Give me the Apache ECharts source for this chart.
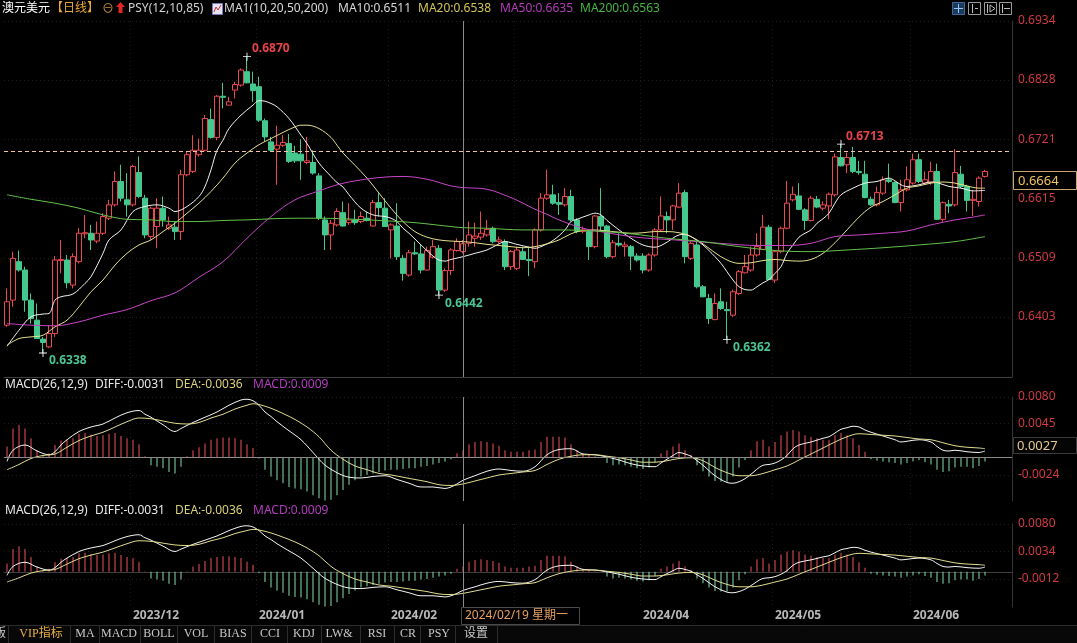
<!DOCTYPE html>
<html>
<head>
<meta charset="utf-8">
<title>澳元美元 日线</title>
<script src="https://cdn.jsdelivr.net/npm/echarts@6.0.0/dist/echarts.min.js"></script>
<style>
html,body{margin:0;padding:0;background:#000;}
#main{width:1077px;height:643px;}
</style>
</head>
<body>
<div id="main"></div>
<script>
// 交易日
var dates = [
'2023/11/02','2023/11/03','2023/11/06','2023/11/07','2023/11/08','2023/11/09','2023/11/10','2023/11/13','2023/11/14','2023/11/15','2023/11/16','2023/11/17','2023/11/20','2023/11/21','2023/11/22','2023/11/23','2023/11/24','2023/11/27','2023/11/28','2023/11/29','2023/11/30',
'2023/12/01','2023/12/04','2023/12/05','2023/12/06','2023/12/07','2023/12/08','2023/12/11','2023/12/12','2023/12/13','2023/12/14','2023/12/15','2023/12/18','2023/12/19','2023/12/20','2023/12/21','2023/12/22','2023/12/25','2023/12/26','2023/12/27','2023/12/28','2023/12/29',
'2024/01/02','2024/01/03','2024/01/04','2024/01/05','2024/01/08','2024/01/09','2024/01/10','2024/01/11','2024/01/12','2024/01/15','2024/01/16','2024/01/17','2024/01/18','2024/01/19','2024/01/22','2024/01/23','2024/01/24','2024/01/25','2024/01/26','2024/01/29','2024/01/30','2024/01/31',
'2024/02/01','2024/02/02','2024/02/05','2024/02/06','2024/02/07','2024/02/08','2024/02/09','2024/02/12','2024/02/13','2024/02/14','2024/02/15','2024/02/16','2024/02/19','2024/02/20','2024/02/21','2024/02/22','2024/02/23','2024/02/26','2024/02/27','2024/02/28','2024/02/29',
'2024/03/01','2024/03/04','2024/03/05','2024/03/06','2024/03/07','2024/03/08','2024/03/11','2024/03/12','2024/03/13','2024/03/14','2024/03/15','2024/03/18','2024/03/19','2024/03/20','2024/03/21','2024/03/22','2024/03/25','2024/03/26','2024/03/27','2024/03/28','2024/03/29',
'2024/04/01','2024/04/02','2024/04/03','2024/04/04','2024/04/05','2024/04/08','2024/04/09','2024/04/10','2024/04/11','2024/04/12','2024/04/15','2024/04/16','2024/04/17','2024/04/18','2024/04/19','2024/04/22','2024/04/23','2024/04/24','2024/04/25','2024/04/26','2024/04/29','2024/04/30',
'2024/05/01','2024/05/02','2024/05/03','2024/05/06','2024/05/07','2024/05/08','2024/05/09','2024/05/10','2024/05/13','2024/05/14','2024/05/15','2024/05/16','2024/05/17','2024/05/20','2024/05/21','2024/05/22','2024/05/23','2024/05/24','2024/05/27','2024/05/28','2024/05/29','2024/05/30','2024/05/31',
'2024/06/03','2024/06/04','2024/06/05','2024/06/06','2024/06/07','2024/06/10','2024/06/11','2024/06/12','2024/06/13','2024/06/14','2024/06/17','2024/06/18','2024/06/19'
];
// 右侧空白位置
var blankSlots = ['', ' ', '  ', '   '];

var opens = [
0.6388,0.6433,0.6502,0.6487,0.6433,0.6397,0.6363,0.6349,0.6373,0.6504,
0.6505,0.6460,0.6502,0.6552,0.6553,0.6539,0.6553,0.6580,0.6604,0.6646,
0.6613,0.6604,0.6662,0.6616,0.6547,0.6565,0.6598,0.6562,0.6564,0.6556,
0.6658,0.6664,0.6694,0.6702,0.6757,0.6725,0.6799,0.6783,0.6810,0.6819,
0.6843,0.6821,0.6816,0.6755,0.6717,0.6704,0.6711,0.6714,0.6697,0.6695,
0.6680,0.6680,0.6656,0.6577,0.6550,0.6568,0.6590,0.6572,0.6577,0.6574,
0.6580,0.6566,0.6608,0.6598,0.6559,0.6566,0.6508,0.6478,0.6518,0.6516,
0.6487,0.6510,0.6526,0.6451,0.6486,0.6522,0.6520,0.6535,0.6544,0.6546,
0.6550,0.6562,0.6538,0.6538,0.6493,0.6490,0.6520,0.6506,0.6502,0.6559,
0.6616,0.6622,0.6608,0.6604,0.6619,0.6577,0.6556,0.6556,0.6529,0.6583,
0.6566,0.6511,0.6535,0.6529,0.6529,0.6512,0.6512,0.6487,0.6514,0.6559,
0.6583,0.6577,0.6600,0.6626,0.6508,0.6532,0.6457,0.6436,0.6398,0.6430,
0.6416,0.6406,0.6445,0.6482,0.6487,0.6514,0.6524,0.6564,0.6469,0.6520,
0.6562,0.6613,0.6620,0.6595,0.6576,0.6614,0.6598,0.6602,0.6622,0.6689,
0.6676,0.6689,0.6664,0.6659,0.6614,0.6604,0.6625,0.6649,0.6644,0.6608,
0.6631,0.6643,0.6685,0.6643,0.6644,0.6664,0.6578,0.6605,0.6604,0.6659,
0.6637,0.6612,0.6610,0.6655
];
var closes = [
0.6430,0.6508,0.6487,0.6433,0.6400,0.6364,0.6357,0.6373,0.6505,0.6506,
0.6464,0.6511,0.6553,0.6554,0.6541,0.6553,0.6583,0.6604,0.6646,0.6616,
0.6604,0.6673,0.6619,0.6550,0.6598,0.6598,0.6577,0.6568,0.6556,0.6658,
0.6694,0.6702,0.6702,0.6759,0.6725,0.6799,0.6797,0.6789,0.6820,0.6846,
0.6823,0.6809,0.6756,0.6726,0.6702,0.6711,0.6716,0.6682,0.6683,0.6683,
0.6683,0.6661,0.6580,0.6550,0.6571,0.6592,0.6566,0.6577,0.6572,0.6583,
0.6576,0.6608,0.6599,0.6565,0.6568,0.6511,0.6481,0.6518,0.6516,0.6487,
0.6522,0.6529,0.6451,0.6486,0.6523,0.6538,0.6534,0.6550,0.6548,0.6553,
0.6560,0.6538,0.6541,0.6493,0.6520,0.6523,0.6506,0.6504,0.6559,0.6616,
0.6622,0.6607,0.6605,0.6619,0.6577,0.6556,0.6559,0.6529,0.6584,0.6566,
0.6511,0.6536,0.6532,0.6532,0.6512,0.6505,0.6487,0.6514,0.6559,0.6584,
0.6577,0.6602,0.6625,0.6511,0.6535,0.6457,0.6439,0.6400,0.6427,0.6418,
0.6414,0.6448,0.6484,0.6493,0.6514,0.6529,0.6564,0.6470,0.6520,0.6562,
0.6607,0.6623,0.6596,0.6576,0.6616,0.6600,0.6604,0.6623,0.6690,0.6674,
0.6689,0.6664,0.6662,0.6617,0.6604,0.6626,0.6649,0.6646,0.6608,0.6631,
0.6649,0.6685,0.6646,0.6649,0.6664,0.6578,0.6608,0.6602,0.6662,0.6637,
0.6612,0.6614,0.6652,0.6664
];
var lows = [
0.6385,0.6421,0.6484,0.6412,0.6391,0.6364,0.6338,0.6347,0.6367,0.6481,
0.6454,0.6454,0.6499,0.6544,0.6523,0.6535,0.6550,0.6577,0.6601,0.6610,
0.6583,0.6601,0.6616,0.6544,0.6541,0.6526,0.6565,0.6559,0.6541,0.6541,
0.6655,0.6661,0.6691,0.6700,0.6723,0.6720,0.6777,0.6783,0.6795,0.6816,
0.6822,0.6789,0.6753,0.6717,0.6700,0.6640,0.6708,0.6679,0.6679,0.6649,
0.6677,0.6658,0.6577,0.6523,0.6523,0.6565,0.6565,0.6568,0.6568,0.6571,
0.6574,0.6565,0.6583,0.6565,0.6508,0.6505,0.6468,0.6475,0.6514,0.6481,
0.6486,0.6508,0.6442,0.6448,0.6478,0.6520,0.6517,0.6529,0.6529,0.6541,
0.6547,0.6535,0.6535,0.6487,0.6487,0.6487,0.6505,0.6476,0.6490,0.6556,
0.6613,0.6604,0.6586,0.6601,0.6574,0.6553,0.6553,0.6505,0.6526,0.6556,
0.6508,0.6508,0.6529,0.6511,0.6487,0.6502,0.6481,0.6484,0.6511,0.6556,
0.6553,0.6559,0.6598,0.6499,0.6505,0.6454,0.6438,0.6390,0.6397,0.6415,
0.6362,0.6403,0.6442,0.6481,0.6484,0.6511,0.6523,0.6469,0.6464,0.6517,
0.6560,0.6610,0.6595,0.6559,0.6574,0.6598,0.6594,0.6578,0.6619,0.6673,
0.6661,0.6661,0.6658,0.6616,0.6602,0.6601,0.6622,0.6643,0.6607,0.6592,
0.6628,0.6640,0.6643,0.6640,0.6640,0.6577,0.6574,0.6589,0.6601,0.6634,
0.6592,0.6584,0.6601,0.6653
];
var highs = [
0.6454,0.6520,0.6522,0.6493,0.6445,0.6427,0.6367,0.6388,0.6512,0.6541,
0.6514,0.6517,0.6562,0.6586,0.6568,0.6574,0.6589,0.6613,0.6664,0.6676,
0.6661,0.6676,0.6691,0.6622,0.6601,0.6616,0.6619,0.6583,0.6574,0.6667,
0.6700,0.6729,0.6723,0.6765,0.6777,0.6801,0.6823,0.6798,0.6825,0.6849,
0.6870,0.6843,0.6834,0.6759,0.6726,0.6746,0.6729,0.6731,0.6710,0.6722,
0.6726,0.6702,0.6661,0.6583,0.6577,0.6598,0.6610,0.6607,0.6595,0.6592,
0.6592,0.6613,0.6625,0.6616,0.6571,0.6607,0.6514,0.6523,0.6538,0.6532,
0.6529,0.6541,0.6532,0.6490,0.6526,0.6544,0.6541,0.6574,0.6572,0.6592,
0.6577,0.6565,0.6547,0.6542,0.6523,0.6529,0.6529,0.6529,0.6562,0.6625,
0.6667,0.6640,0.6625,0.6634,0.6631,0.6580,0.6565,0.6559,0.6586,0.6634,
0.6568,0.6541,0.6553,0.6538,0.6532,0.6517,0.6517,0.6517,0.6562,0.6619,
0.6592,0.6604,0.6643,0.6631,0.6538,0.6538,0.6460,0.6444,0.6445,0.6454,
0.6430,0.6452,0.6487,0.6514,0.6529,0.6553,0.6586,0.6568,0.6523,0.6565,
0.6647,0.6637,0.6643,0.6598,0.6620,0.6620,0.6610,0.6626,0.6696,0.6713,
0.6698,0.6708,0.6683,0.6683,0.6619,0.6637,0.6655,0.6678,0.6646,0.6649,
0.6673,0.6696,0.6696,0.6664,0.6681,0.6678,0.6610,0.6613,0.6704,0.6674,
0.6640,0.6631,0.6655,0.6667
];

// 均线读数 [序号, 值]
var ma10Pts = [[0,0.6350],[2,0.6379],[4,0.6403],[6,0.6408],[7,0.6409],[8,0.6433],[9,0.6439],[11,0.6444],[13,0.6463],[14,0.6475],[16,0.6517],[17,0.6541],[19,0.6559],[21,0.6592],[23,0.6601],[25,0.6604],[27,0.6598],[28,0.6592],[30,0.6601],[32,0.6619],[33,0.6637],[34,0.6667],[35,0.6702],[36,0.6720],[37,0.6741],[39,0.6765],[41,0.6783],[42,0.6791],[43,0.6790],[44,0.6786],[45,0.6780],[47,0.6759],[49,0.6729],[50,0.6714],[52,0.6679],[54,0.6655],[55,0.6644],[56,0.6636],[57,0.6622],[59,0.6598],[61,0.6586],[63,0.6583],[64,0.6580],[65,0.6574],[66,0.6562],[67,0.6553],[69,0.6532],[71,0.6512],[72,0.6505],[73,0.6503],[74,0.6506],[76,0.6511],[78,0.6517],[80,0.6523],[82,0.6534],[83,0.6538],[85,0.6533],[87,0.6528],[88,0.6526],[89,0.6529],[91,0.6540],[93,0.6559],[94,0.6574],[95,0.6578],[97,0.6586],[98,0.6589],[99,0.6586],[100,0.6576],[102,0.6559],[104,0.6544],[106,0.6532],[108,0.6528],[109,0.6531],[110,0.6537],[112,0.6550],[113,0.6551],[114,0.6547],[115,0.6540],[116,0.6532],[117,0.6522],[118,0.6511],[119,0.6499],[120,0.6484],[121,0.6469],[122,0.6457],[123,0.6452],[124,0.6451],[125,0.6457],[126,0.6464],[127,0.6470],[128,0.6481],[129,0.6493],[130,0.6517],[131,0.6532],[132,0.6546],[133,0.6553],[134,0.6559],[135,0.6571],[136,0.6579],[137,0.6589],[138,0.6607],[139,0.6622],[141,0.6634],[143,0.6643],[145,0.6646],[147,0.6652],[148,0.6647],[149,0.6640],[150,0.6637],[152,0.6640],[154,0.6645],[155,0.6644],[157,0.6637],[159,0.6634],[161,0.6629],[163,0.6630]];
var ma20Pts = [[0,0.6352],[2,0.6364],[4,0.6367],[6,0.6370],[8,0.6385],[10,0.6397],[12,0.6421],[14,0.6448],[16,0.6469],[18,0.6496],[20,0.6517],[22,0.6532],[24,0.6541],[26,0.6556],[28,0.6571],[30,0.6589],[32,0.6607],[34,0.6628],[36,0.6652],[38,0.6679],[40,0.6697],[42,0.6712],[44,0.6723],[46,0.6734],[48,0.6744],[49,0.6747],[50,0.6747],[52,0.6741],[54,0.6725],[55,0.6711],[56,0.6697],[58,0.6675],[60,0.6652],[62,0.6625],[64,0.6598],[66,0.6574],[68,0.6556],[70,0.6546],[72,0.6541],[74,0.6539],[76,0.6538],[78,0.6536],[80,0.6533],[82,0.6531],[84,0.6529],[86,0.6527],[88,0.6529],[90,0.6534],[92,0.6541],[94,0.6552],[96,0.6558],[98,0.6559],[100,0.6557],[102,0.6555],[104,0.6553],[106,0.6554],[108,0.6556],[110,0.6556],[112,0.6554],[114,0.6547],[116,0.6534],[118,0.6518],[120,0.6505],[122,0.6499],[124,0.6500],[126,0.6504],[128,0.6506],[130,0.6504],[132,0.6503],[134,0.6506],[136,0.6517],[138,0.6536],[140,0.6559],[142,0.6582],[144,0.6600],[146,0.6610],[148,0.6622],[150,0.6634],[152,0.6638],[154,0.6643],[156,0.6645],[158,0.6643],[160,0.6638],[162,0.6634],[163,0.6634]];
var ma50Pts = [[0,0.6391],[4,0.6388],[8,0.6387],[12,0.6394],[16,0.6406],[20,0.6416],[24,0.6432],[28,0.6446],[32,0.6474],[36,0.6502],[40,0.6544],[44,0.6583],[48,0.6613],[52,0.6629],[55,0.6640],[58,0.6647],[62,0.6653],[66,0.6655],[70,0.6650],[74,0.6638],[76,0.6635],[80,0.6632],[84,0.6617],[86,0.6607],[88,0.6596],[90,0.6587],[92,0.6577],[96,0.6562],[100,0.6554],[104,0.6547],[108,0.6543],[110,0.6542],[115,0.6538],[120,0.6534],[125,0.6531],[130,0.6531],[134,0.6535],[138,0.6547],[142,0.6550],[146,0.6553],[150,0.6557],[154,0.6568],[158,0.6577],[161,0.6582],[163,0.6586]];
var ma200Pts = [[0,0.6622],[4,0.6614],[8,0.6607],[12,0.6598],[16,0.6586],[20,0.6578],[24,0.6577],[28,0.6574],[32,0.6574],[36,0.6576],[40,0.6577],[44,0.6579],[48,0.6580],[52,0.6580],[56,0.6579],[62,0.6576],[68,0.6572],[74,0.6565],[76,0.6563],[80,0.6562],[86,0.6559],[92,0.6559],[98,0.6557],[104,0.6552],[110,0.6544],[116,0.6538],[122,0.6529],[128,0.6522],[134,0.6520],[140,0.6523],[146,0.6527],[152,0.6532],[158,0.6538],[163,0.6547]];

// MACD(26,12,9)
var diffPts = [[0,-0.0006],[1,0.0009],[3,0.0016],[5,0.0008],[7,0.0003],[8,0.0007],[9,0.0016],[10,0.0023],[12,0.0034],[14,0.0040],[16,0.0044],[18,0.0052],[20,0.0059],[22,0.0062],[23,0.0057],[24,0.0053],[26,0.0043],[28,0.0034],[29,0.0038],[31,0.0046],[33,0.0053],[35,0.0060],[37,0.0069],[39,0.0076],[40,0.0077],[41,0.0075],[42,0.0069],[43,0.0060],[44,0.0054],[45,0.0047],[47,0.0035],[49,0.0023],[51,0.0006],[52,-0.0003],[53,-0.0011],[55,-0.0021],[57,-0.0027],[59,-0.0028],[61,-0.0026],[63,-0.0025],[65,-0.0030],[67,-0.0035],[69,-0.0040],[71,-0.0040],[73,-0.0042],[74,-0.0040],[75,-0.0036],[76,-0.0031],[78,-0.0025],[80,-0.0019],[82,-0.0016],[84,-0.0018],[86,-0.0019],[88,-0.0013],[90,0.0003],[92,0.0010],[94,0.0011],[96,0.0004],[98,0.0003],[100,0.0000],[102,-0.0004],[104,-0.0009],[106,-0.0012],[108,-0.0013],[109,-0.0008],[110,-0.0003],[111,0.0002],[112,0.0006],[113,0.0004],[114,0.0001],[115,-0.0005],[116,-0.0011],[118,-0.0025],[120,-0.0034],[121,-0.0035],[122,-0.0033],[123,-0.0029],[124,-0.0023],[126,-0.0011],[127,-0.0010],[128,-0.0008],[129,-0.0004],[130,0.0002],[131,0.0011],[132,0.0016],[134,0.0020],[136,0.0025],[137,0.0027],[138,0.0032],[139,0.0037],[140,0.0039],[141,0.0041],[142,0.0040],[143,0.0036],[144,0.0033],[146,0.0028],[148,0.0023],[149,0.0020],[150,0.0021],[152,0.0023],[154,0.0020],[155,0.0014],[156,0.0009],[157,0.0008],[158,0.0009],[160,0.0007],[162,0.0006],[163,0.0008]];
var deaPts = [[0,-0.0017],[2,-0.0010],[4,-0.0002],[6,0.0002],[8,0.0004],[10,0.0013],[12,0.0022],[14,0.0028],[16,0.0033],[18,0.0040],[20,0.0047],[22,0.0052],[24,0.0051],[26,0.0048],[28,0.0045],[30,0.0044],[32,0.0046],[34,0.0052],[36,0.0057],[38,0.0064],[40,0.0069],[41,0.0071],[42,0.0070],[44,0.0065],[46,0.0058],[48,0.0050],[50,0.0040],[52,0.0027],[54,0.0009],[56,-0.0003],[58,-0.0012],[60,-0.0017],[62,-0.0022],[64,-0.0024],[66,-0.0027],[68,-0.0030],[70,-0.0033],[72,-0.0037],[74,-0.0038],[76,-0.0036],[78,-0.0032],[80,-0.0028],[82,-0.0024],[84,-0.0022],[86,-0.0020],[88,-0.0018],[90,-0.0010],[92,-0.0003],[94,0.0001],[96,0.0003],[98,0.0003],[100,0.0001],[102,-0.0001],[104,-0.0004],[106,-0.0007],[108,-0.0007],[110,-0.0005],[112,-0.0002],[114,-0.0001],[116,-0.0005],[118,-0.0014],[120,-0.0021],[122,-0.0025],[124,-0.0025],[126,-0.0022],[128,-0.0017],[130,-0.0012],[132,-0.0004],[134,0.0004],[136,0.0012],[138,0.0020],[140,0.0027],[142,0.0031],[144,0.0030],[146,0.0029],[148,0.0028],[150,0.0026],[152,0.0024],[154,0.0023],[156,0.0019],[158,0.0015],[160,0.0013],[162,0.0012],[163,0.0011]];
var macdHist = [
0.0014,0.0038,0.0043,0.0038,0.0025,0.0009,0.0003,0.0005,0.0016,0.0022,
0.0023,0.0025,0.0031,0.0032,0.0030,0.0028,0.0029,0.0031,0.0032,0.0028,
0.0025,0.0023,0.0017,0.0001,-0.0011,-0.0013,-0.0015,-0.0020,-0.0022,-0.0013,
0.0001,0.0009,0.0013,0.0018,0.0023,0.0025,0.0026,0.0026,0.0025,0.0023,
0.0017,0.0012,-0.0002,-0.0017,-0.0026,-0.0031,-0.0035,-0.0040,-0.0042,-0.0043,
-0.0046,-0.0051,-0.0055,-0.0058,-0.0057,-0.0051,-0.0044,-0.0037,-0.0031,-0.0026,
-0.0024,-0.0022,-0.0020,-0.0018,-0.0017,-0.0017,-0.0016,-0.0015,-0.0015,-0.0013,
-0.0012,-0.0010,-0.0008,-0.0006,-0.0003,0.0005,0.0009,0.0017,0.0020,0.0021,
0.0020,0.0018,0.0015,0.0009,0.0007,0.0007,0.0007,0.0009,0.0010,0.0020,
0.0027,0.0027,0.0027,0.0026,0.0017,0.0009,0.0005,0.0003,0.0001,0.0000,
-0.0008,-0.0011,-0.0010,-0.0011,-0.0013,-0.0015,-0.0016,-0.0014,-0.0007,0.0005,
0.0009,0.0014,0.0018,0.0009,0.0003,-0.0011,-0.0019,-0.0026,-0.0032,-0.0033,
-0.0033,-0.0026,-0.0014,-0.0004,0.0009,0.0021,0.0023,0.0014,0.0020,0.0029,
0.0034,0.0036,0.0034,0.0029,0.0027,0.0025,0.0023,0.0023,0.0029,0.0032,
0.0029,0.0025,0.0016,0.0007,-0.0003,-0.0005,-0.0006,-0.0007,-0.0008,-0.0010,
-0.0008,-0.0006,-0.0004,-0.0007,-0.0010,-0.0017,-0.0020,-0.0019,-0.0014,-0.0013,
-0.0013,-0.0015,-0.0012,-0.0006
];

// 刻度
var priceTicks = [0.6403, 0.6509, 0.6615, 0.6721, 0.6828, 0.6934];
var macd1Ticks = [-0.0024, 0.0045, 0.0080];
var macd2Ticks = [-0.0012, 0.0034, 0.0080];

// 标注
var peakIdx = [40, 139];
var troughIdx = [6, 72, 120];
var crossIdx = 76;
var crossWeekday = '星期一';
var crossMacdY = 0.0027;

var RED = '#ec4a4f', GRN = '#44c88e';
var cats = dates.concat(blankSlots);
var lastClose = closes[closes.length - 1];
var kData = dates.map(function (d, i) { return [opens[i], closes[i], lows[i], highs[i]]; });

function toSeries(pts) { return pts.map(function (p) { return [dates[p[0]], p[1]]; }); }
function valAt(pts, i) { for (var k = 0; k < pts.length; k++) { if (pts[k][0] === i) return pts[k][1]; } return null; }
function monthStart(i) { return i > 0 && i < dates.length && dates[i].slice(0, 7) !== dates[i - 1].slice(0, 7); }

function xAx(gi, showLabel) {
  return {
    type: 'category', gridIndex: gi, data: cats, boundaryGap: true,
    axisLine: { show: true, lineStyle: { color: '#3e3e3e' } },
    axisTick: { show: false },
    axisLabel: showLabel ? {
      show: true, interval: function (i) { return monthStart(i); },
      formatter: function (v) { return v.slice(0, 7); },
      align: 'left', color: '#b8b8b8', fontWeight: 'bold', fontSize: 12, margin: 3,
      hideOverlap: false
    } : { show: false },
    splitLine: { show: true, interval: function (i) { return monthStart(i); }, lineStyle: { color: '#1b1b1b', type: [1, 3] } }
  };
}
function yAx(gi, mn, mx, ticks) {
  return {
    type: 'value', gridIndex: gi, position: 'right', min: mn, max: mx, scale: true,
    axisLine: { show: true, lineStyle: { color: '#333' } },
    axisTick: { show: false, customValues: ticks },
    axisLabel: { customValues: ticks, color: '#d03a40', fontSize: 12, margin: 6,
      formatter: function (v) { return v.toFixed(4); } },
    splitLine: { show: true, lineStyle: { color: '#1e1e1e', type: [1, 3] } }
  };
}
function maLine(name, pts, color) {
  return { type: 'line', name: name, xAxisIndex: 0, yAxisIndex: 0, data: toSeries(pts),
    smooth: 0.35, showSymbol: false, symbol: 'none', lineStyle: { width: 1, color: color }, z: 3, silent: true };
}
var crossLine = { xAxis: dates[crossIdx], lineStyle: { color: '#8a8a8a', type: 'solid', width: 1 } };
var plus = 'path://M0,4L9,4L9,5L0,5ZM4,0L5,0L5,9L4,9Z';

var marks = peakIdx.map(function (i) {
  return { coord: [dates[i], highs[i]], value: highs[i],
    label: { show: true, position: 'right', distance: 1, offset: [0, -8], color: '#e8434a',
      fontSize: 12, fontWeight: 'bold', formatter: highs[i].toFixed(4) } };
}).concat(troughIdx.map(function (i) {
  return { coord: [dates[i], lows[i]], value: lows[i],
    label: { show: true, position: 'right', distance: 2, offset: [0, 8], color: '#4cc494',
      fontSize: 12, fontWeight: 'bold', formatter: lows[i].toFixed(4) } };
}));

function histSeries(gi) {
  return { type: 'bar', xAxisIndex: gi, yAxisIndex: gi, barWidth: 1, silent: true,
    data: macdHist.map(function (v) { return { value: v, itemStyle: { color: v >= 0 ? '#f0505c' : '#86e0aa' } }; }) };
}
function macdLine(gi, pts, color, extraMark) {
  var s = { type: 'line', xAxisIndex: gi, yAxisIndex: gi, data: toSeries(pts), smooth: 0.35,
    showSymbol: false, symbol: 'none', lineStyle: { width: 1, color: color }, silent: true, z: 3 };
  if (extraMark) s.markLine = extraMark;
  return s;
}

// 文字与装饰
var F = '"Noto Sans","Noto Sans CJK SC",sans-serif';
function txt(x, y, s, color, font, align) {
  return { type: 'text', x: x, y: y, z: 100, silent: true,
    style: { text: s, fill: color, font: font || ('12px ' + F), verticalAlign: 'middle', align: align || 'left' } };
}
function rect(x, y, w, h, fill, stroke) {
  return { type: 'rect', z: 99, silent: true, shape: { x: x, y: y, width: w, height: h },
    style: { fill: fill, stroke: stroke || null, lineWidth: 1 } };
}
function seg(x1, y1, x2, y2, color) {
  return { type: 'line', z: 100, silent: true, shape: { x1: x1, y1: y1, x2: x2, y2: y2 }, style: { stroke: color, lineWidth: 1 } };
}

var g = [];
// 标题行
g.push(txt(2, 9, '澳元美元', '#ffffff'));
g.push(txt(51, 9, '【日线】', '#e8a838'));
g.push(txt(102, 10, '⊖', '#d09048'));
g.push({ type: 'polygon', z: 100, silent: true, shape: { points: [[120.5, 2], [125, 7], [122.5, 7], [122.5, 13], [118.5, 13], [118.5, 7], [116, 7]] }, style: { fill: '#e02828' } });
g.push(txt(128, 9, 'PSY(12,10,85)', '#d2d2d2'));
g.push(rect(212.5, 3.5, 10, 11, '#e4e4f4', '#7a7ab8'));
g.push({ type: 'polyline', z: 101, silent: true, shape: { points: [[214, 12], [216, 7], [218, 10], [221, 5]] }, style: { stroke: '#c03030', lineWidth: 1 } });
g.push(txt(224, 9, 'MA1(10,20,50,200)', '#d8d8d8'));
g.push(txt(338, 9, 'MA10:' + valAt(ma10Pts, crossIdx).toFixed(4), '#d8d8d8'));
g.push(txt(418, 9, 'MA20:' + valAt(ma20Pts, crossIdx).toFixed(4), '#d2c45a'));
g.push(txt(500, 9, 'MA50:' + valAt(ma50Pts, crossIdx).toFixed(4), '#b43cbc'));
g.push(txt(580, 9, 'MA200:' + valAt(ma200Pts, crossIdx).toFixed(4), '#44b444'));
// 右上角按钮
g.push(rect(952.5, 2.5, 12, 12, '#1b3a5c', '#3d6a9a'));
g.push(seg(958.5, 4, 958.5, 13, '#9cc4f0'));
g.push(seg(954, 8.5, 963, 8.5, '#9cc4f0'));
[968.5, 984.5, 999.5].forEach(function (x) { g.push(rect(x, 2.5, 12, 12, 'none', '#9a9a9a')); });
g.push(seg(972.5, 4, 972.5, 13, '#bdbdbd')); g.push(seg(975, 8.5, 978, 8.5, '#bdbdbd'));
g.push(seg(987.5, 4, 987.5, 13, '#bdbdbd'));
g.push({ type: 'polygon', z: 101, silent: true, shape: { points: [[990, 5], [995, 8.5], [990, 12]] }, style: { fill: 'none', stroke: '#bdbdbd' } });
g.push(seg(1002.5, 4, 1002.5, 13, '#bdbdbd')); g.push(seg(1004, 8.5, 1010, 8.5, '#bdbdbd'));
// 现价框
g.push(rect(1013.5, 171.5, 63, 18, '#000', '#c8a870'));
g.push(txt(1018, 181, lastClose.toFixed(4), '#f0c460', '13px ' + F));
// MACD 标题
function macdHead(y) {
  g.push(txt(5, y, 'MACD(26,12,9)', '#e8e8e8'));
  g.push(txt(95, y, 'DIFF:' + valAt(diffPts, crossIdx).toFixed(4), '#e8e8e8'));
  g.push(txt(175, y, 'DEA:' + valAt(deaPts, crossIdx).toFixed(4), '#d8d07a'));
  g.push(txt(253, y, 'MACD:' + macdHist[crossIdx].toFixed(4), '#b43cc0'));
}
macdHead(385);
macdHead(511);
// 十字光标数值框
g.push(rect(1013.5, 437.5, 63, 16, '#050505', '#3a3a3a'));
g.push(txt(1017, 446, crossMacdY.toFixed(4), '#e8c890', '13px ' + F));
g.push(rect(461.5, 607.5, 118, 17, '#000', '#4a4a4a'));
g.push(txt(465, 616, dates[crossIdx] + ' ' + crossWeekday, '#e8a060', '12px ' + F));
// 底部工具栏
g.push(rect(0, 625, 1077, 18, '#080808', null));
g.push(seg(0, 625.5, 1077, 625.5, '#2c2c2c'));
[8, 70, 99, 140, 177, 214, 251, 287, 321, 360, 394, 420, 455, 497].forEach(function (x) {
  g.push(seg(x + 0.5, 626, x + 0.5, 643, '#2e2e2e'));
});
var TF = '12px "Liberation Serif","Noto Sans CJK SC",serif';
var tools = [['版', 0], ['VIP指标', 41], ['MA', 85], ['MACD', 119], ['BOLL', 159], ['VOL', 196], ['BIAS', 233], ['CCI', 270], ['KDJ', 304], ['LW&', 339], ['RSI', 377], ['CR', 408], ['PSY', 439], ['设置', 476]];
tools.forEach(function (t, k) { g.push(txt(t[1], 634, t[0], k === 1 ? '#e8b048' : '#c8c8c8', TF, 'center')); });

var option = {
  backgroundColor: '#000',
  animation: false,
  textStyle: { fontFamily: F },
  grid: [
    { left: 4, top: 21, width: 1008, height: 356 },
    { left: 4, top: 397, width: 1008, height: 104 },
    { left: 4, top: 524, width: 1008, height: 83 }
  ],
  xAxis: [xAx(0, false), xAx(1, false), xAx(2, true)],
  yAxis: [yAx(0, 0.6295, 0.6934, priceTicks), yAx(1, -0.00587, 0.008, macd1Ticks), yAx(2, -0.00588, 0.008, macd2Ticks)],
  series: [
    {
      type: 'candlestick', xAxisIndex: 0, yAxisIndex: 0, data: kData, barWidth: 5, silent: true,
      itemStyle: { color: '#000', color0: GRN, borderColor: RED, borderColor0: GRN, borderWidth: 1 },
      markPoint: { symbol: plus, symbolSize: 8, itemStyle: { color: '#ffffff' }, data: marks, silent: true },
      markLine: { silent: true, symbol: 'none', label: { show: false },
        data: [{ yAxis: lastClose, lineStyle: { color: '#f2c4a0', type: [4, 3], width: 1 } }, crossLine] }
    },
    maLine('MA10', ma10Pts, '#f2f2f2'),
    maLine('MA20', ma20Pts, '#e6e08c'),
    maLine('MA50', ma50Pts, '#c845c8'),
    maLine('MA200', ma200Pts, '#62c24a'),
    histSeries(1),
    macdLine(1, diffPts, '#f5f5f5', { silent: true, symbol: 'none', label: { show: false },
      data: [crossLine, { yAxis: crossMacdY, lineStyle: { color: '#8a8a8a', type: 'solid', width: 1 } }] }),
    macdLine(1, deaPts, '#e0dc90'),
    histSeries(2),
    macdLine(2, diffPts, '#f5f5f5', { silent: true, symbol: 'none', label: { show: false }, data: [crossLine] }),
    macdLine(2, deaPts, '#e0dc90')
  ],
  graphic: g
};

var chart = echarts.init(document.getElementById('main'));
chart.setOption(option);
</script>
</body>
</html>
